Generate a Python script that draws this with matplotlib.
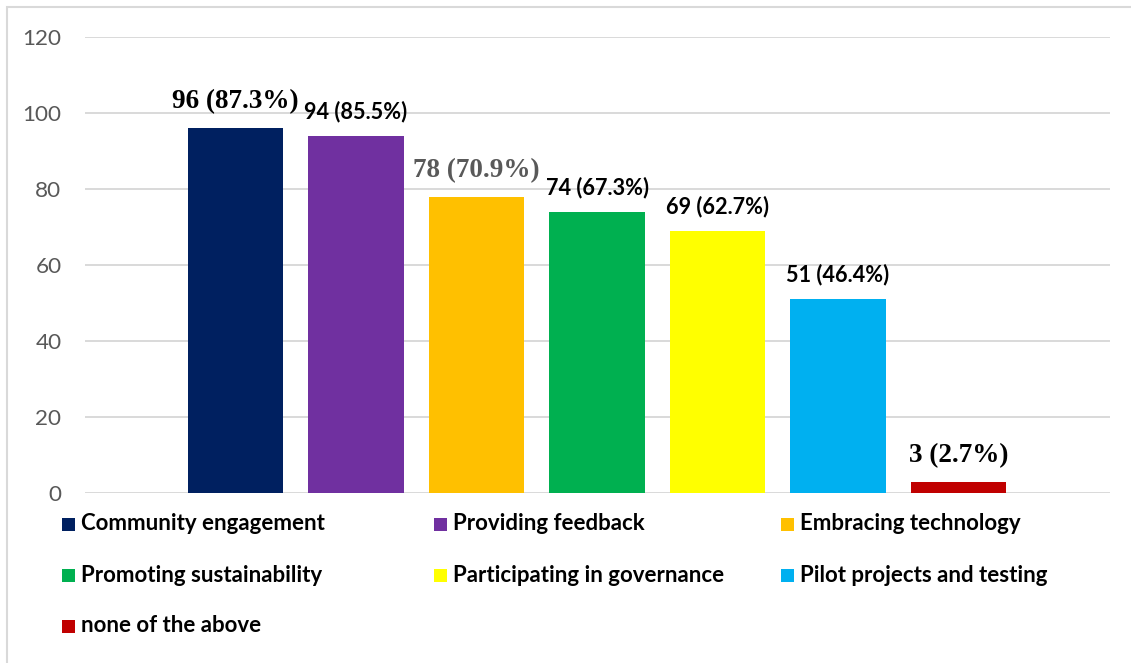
import matplotlib.pyplot as plt
from matplotlib.patches import Rectangle

# survey answers, counts and share of respondents
categories = ['Community engagement', 'Providing feedback', 'Embracing technology',
              'Promoting sustainability', 'Participating in governance',
              'Pilot projects and testing', 'none of the above']
counts = [96, 94, 78, 74, 69, 51, 3]
percents = [87.3, 85.5, 70.9, 67.3, 62.7, 46.4, 2.7]
colors = ['#002060', '#7030A0', '#FFC000', '#00B050', '#FFFF00', '#00B0F0', '#C00000']
yticks = [0, 20, 40, 60, 80, 100, 120]

# label styling per bar (mixed fonts, as in the source document)
label_serif = [True, False, True, False, False, False, True]
label_colors = ['black', 'black', '#595959', 'black', 'black', 'black', 'black']

W, H = 1131, 663
fig = plt.figure(figsize=(W / 100, H / 100), dpi=100)
ax = fig.add_axes([85 / W, (H - 493) / H, (1110 - 85) / W, (493 - 37) / H])

x = list(range(len(counts)))
ax.bar(x, counts, width=0.79, color=colors, zorder=3)

for i, (c, p) in enumerate(zip(counts, percents)):
    txt = f'{c} ({p}%)'
    if label_serif[i]:
        fam, size = 'Liberation Serif', 19.5
    else:
        fam, size = 'Lato', 15.6
    ax.annotate(txt, xy=(i, c), xytext=(0, 10), textcoords='offset points',
                ha='center', va='bottom', fontsize=size, fontweight='bold',
                family=fam, color=label_colors[i], zorder=4)

ax.set_xlim(-1.249, 7.257)
ax.set_ylim(0, 120)
ax.set_yticks(yticks)
ax.set_xticks([])
ax.yaxis.grid(True, color='#d9d9d9', linewidth=1.4, zorder=0)
for s in ax.spines.values():
    s.set_visible(False)
ax.tick_params(axis='y', length=0, pad=17, labelsize=16.2, labelcolor='#595959')
for t in ax.get_yticklabels():
    t.set_family('Lato')

# legend laid out as a 3-column grid below the plot
col_x = [62, 434, 781]
row_y = [524, 575, 626]
for i, (name, col) in enumerate(zip(categories, colors)):
    cx = col_x[i % 3]
    cy = row_y[i // 3]
    fig.add_artist(Rectangle((cx / W, (H - cy - 6.5) / H), 13 / W, 13 / H,
                             transform=fig.transFigure, color=col, lw=0))
    fig.text((cx + 19) / W, (H - cy) / H, name, ha='left', va='center',
             fontsize=16, fontweight='bold', family='Lato', color='black')

# chart frame
fig.add_artist(Rectangle((7 / W, -0.1), 1.2, (H - 7) / H + 0.1,
                         transform=fig.transFigure, fill=False,
                         edgecolor='#d9d9d9', lw=1.5))

fig.savefig('out.png', dpi=100)
